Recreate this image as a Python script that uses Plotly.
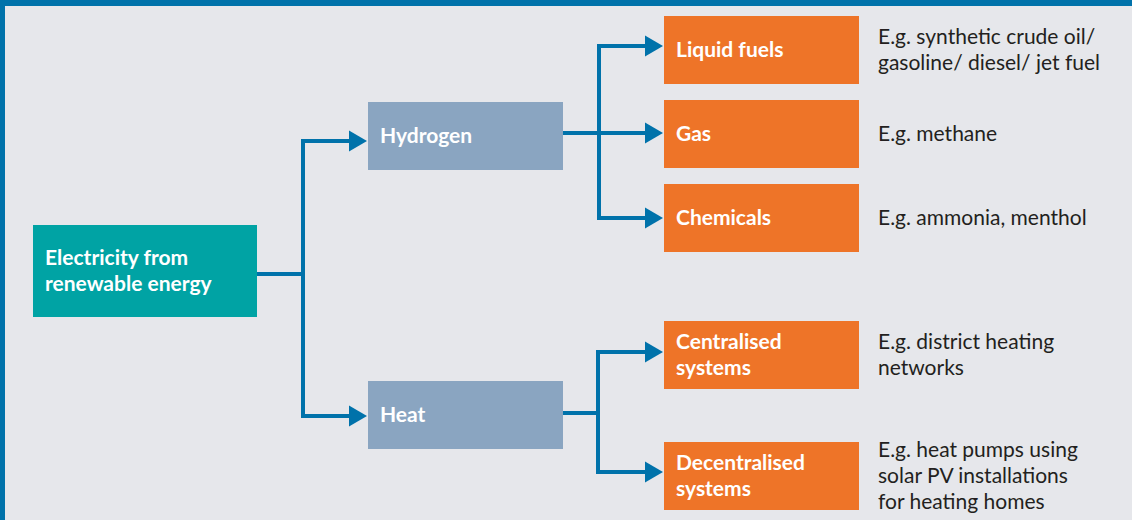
import plotly.graph_objects as go

# ---------------- data ----------------
node_labels = [
    ["Electricity from", "renewable energy"],
    ["Hydrogen"],
    ["Heat"],
    ["Liquid fuels"],
    ["Gas"],
    ["Chemicals"],
    ["Centralised", "systems"],
    ["Decentralised", "systems"],
]
node_parent = [None, 0, 0, 1, 1, 1, 2, 2]
node_kind = ["source", "carrier", "carrier", "use", "use", "use", "use", "use"]
examples = [
    [], [], [],
    ["E.g. synthetic crude oil/", "gasoline/ diesel/ jet fuel"],
    ["E.g. methane"],
    ["E.g. ammonia, menthol"],
    ["E.g. district heating", "networks"],
    ["E.g. heat pumps using", "solar PV installations", "for heating homes"],
]

# ---------------- layout (pixel geometry) ----------------
W, H = 1132, 520
box_x0 = [33, 368, 368, 664, 664, 664, 664, 664]
box_x1 = [257, 563, 563, 859, 859, 859, 859, 859]
box_y0 = [225, 102, 381, 16, 100, 184, 321, 442]
box_y1 = [317, 170, 449, 84, 168, 252, 389, 510]
arrow_y = [None, 141, 416, 46, 133, 218, 352, 472]   # y where incoming arrow hits
out_y = [274, 133, 413, None, None, None, None, None]  # y of outgoing stub
trunk_x = [303, 599, 598, None, None, None, None, None]
text_pad = 10
example_x = 876
text_dy = -2
line_h = 26
fsize = 21

colors = {"source": "#00A3A4", "carrier": "#8AA5C1", "use": "#EE7428"}
line_col = "#0072AA"
bg = "#E6E7EB"
lw = 4
head_len = 18
head_half = 10.5

fig = go.Figure()
shapes = []
annotations = []


def add_lines(lines, x, yc, bold, color):
    n = len(lines)
    for k, t in enumerate(lines):
        y = yc + text_dy + (k - (n - 1) / 2) * line_h
        annotations.append(dict(x=x, y=y, xref="x", yref="y",
                                text=f"<b>{t}</b>" if bold else t, showarrow=False,
                                xanchor="left", yanchor="middle", align="left",
                                font=dict(family="Lato", size=fsize, color=color)))


# border bands
shapes.append(dict(type="rect", x0=0, x1=W, y0=0, y1=6, fillcolor=line_col, line_width=0, layer="above"))
shapes.append(dict(type="rect", x0=0, x1=5, y0=0, y1=H, fillcolor=line_col, line_width=0, layer="above"))

# boxes and labels
for i, lab in enumerate(node_labels):
    shapes.append(dict(type="rect", x0=box_x0[i], x1=box_x1[i], y0=box_y0[i], y1=box_y1[i],
                       fillcolor=colors[node_kind[i]], line_width=0, layer="below"))
    yc = (box_y0[i] + box_y1[i]) / 2
    add_lines(lab, box_x0[i] + text_pad, yc, True, "white")
    if examples[i]:
        add_lines(examples[i], example_x, yc, False, "#231F20")

# connectors
for p in range(len(node_labels)):
    children = [c for c in range(len(node_labels)) if node_parent[c] == p]
    if not children:
        continue
    tx = trunk_x[p]
    shapes.append(dict(type="line", x0=box_x1[p], x1=tx + lw / 2, y0=out_y[p], y1=out_y[p],
                       line=dict(color=line_col, width=lw)))
    ys = [arrow_y[c] for c in children]
    shapes.append(dict(type="line", x0=tx, x1=tx, y0=min(ys) - lw / 2, y1=max(ys) + lw / 2,
                       line=dict(color=line_col, width=lw)))
    for c in children:
        tip = box_x0[c] - 1
        base = tip - head_len
        shapes.append(dict(type="line", x0=tx, x1=base + 1, y0=arrow_y[c], y1=arrow_y[c],
                           line=dict(color=line_col, width=lw)))
        shapes.append(dict(type="path",
                           path=f"M {base},{arrow_y[c] - head_half} L {tip},{arrow_y[c]} L {base},{arrow_y[c] + head_half} Z",
                           fillcolor=line_col, line_width=0))

fig.update_layout(
    width=W, height=H,
    margin=dict(l=0, r=0, t=0, b=0),
    paper_bgcolor=bg, plot_bgcolor=bg,
    xaxis=dict(range=[0, W], visible=False, fixedrange=True),
    yaxis=dict(range=[H, 0], visible=False, fixedrange=True),
    shapes=shapes, annotations=annotations,
    showlegend=False,
)
fig.write_html("out.html", config={"displayModeBar": False},
               post_script="document.body.style.margin='0';document.body.style.overflow='hidden';")
